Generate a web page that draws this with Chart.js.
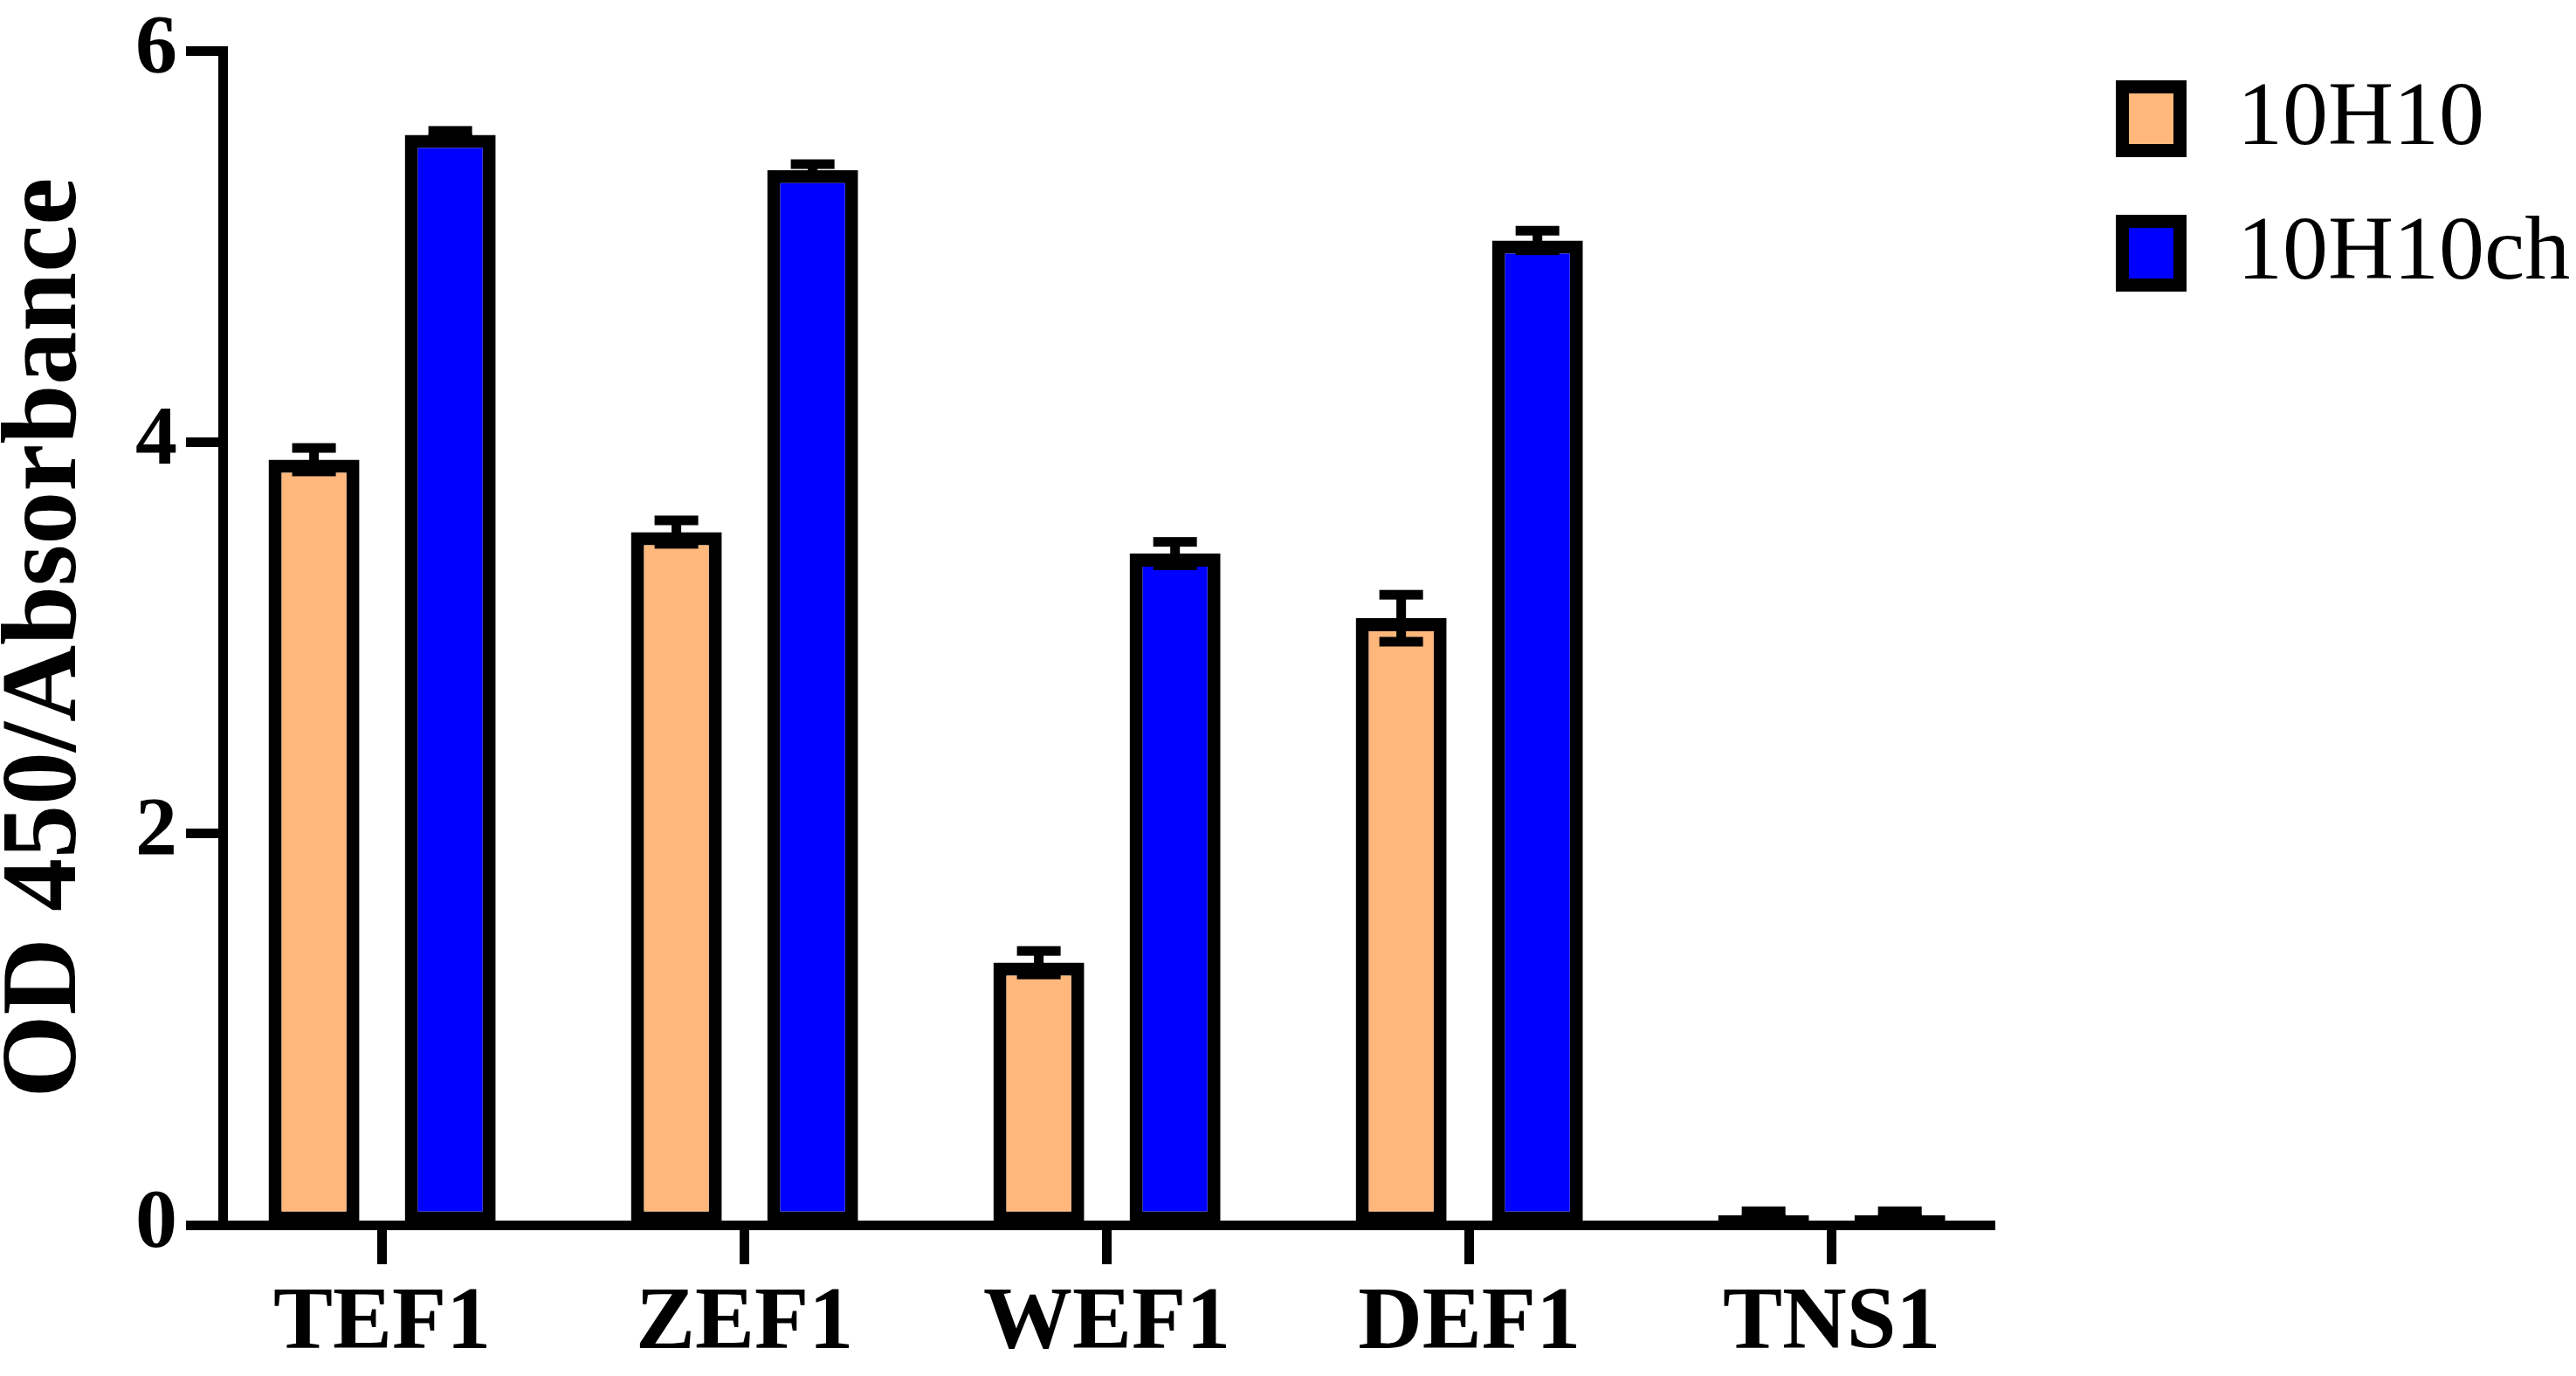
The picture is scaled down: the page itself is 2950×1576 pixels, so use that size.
<!DOCTYPE html>
<html>
<head>
<meta charset="utf-8">
<script src="https://cdn.jsdelivr.net/npm/chart.js@4.4.0/dist/chart.umd.min.js"></script>
<style>
  html, body { margin: 0; padding: 0; background: #fff; }
  canvas { display: block; }
</style>
</head>
<body>
<canvas id="myChart" width="2950" height="1576"></canvas>
<script>
const categories = ['TEF1', 'ZEF1', 'WEF1', 'DEF1', 'TNS1'];
const seriesNames = ['10H10', '10H10ch'];
const values10H10 = [3.91, 3.54, 1.34, 3.10, 0.05];
const values10H10ch = [5.57, 5.39, 3.43, 5.03, 0.05];
const sd10H10 = [0.06, 0.06, 0.06, 0.12, 0.02];
const sd10H10ch = [0.02, 0.03, 0.06, 0.05, 0.02];
const yTicks = [0, 2, 4, 6];

const serif = '"Liberation Serif", "Times New Roman", serif';

// mean +/- SD whiskers drawn on top of the bars
const errorBars = {
    id: 'errorBars',
    afterDatasetsDraw(chart) {
        const ctx = chart.ctx;
        const yScale = chart.scales.y;
        ctx.save();
        ctx.fillStyle = '#000';
        chart.data.datasets.forEach((ds, i) => {
            chart.getDatasetMeta(i).data.forEach((bar, j) => {
                const v = ds.data[j].y, e = ds.errors[j];
                const top = yScale.getPixelForValue(v + e);
                const bottom = yScale.getPixelForValue(v - e);
                ctx.fillRect(bar.x - 5.5, top, 11, bottom - top);
                ctx.fillRect(bar.x - 25, top - 5.5, 50, 11);
                ctx.fillRect(bar.x - 25, bottom - 5.5, 50, 11);
            });
        });
        ctx.restore();
    }
};

// legend on the right, square swatch with thick black frame
const sideLegend = {
    id: 'sideLegend',
    afterDraw(chart) {
        const ctx = chart.ctx;
        ctx.save();
        chart.data.datasets.forEach((ds, i) => {
            const bx = 2423, by = 92 + i * 154, bw = 81, bh = 88;
            ctx.fillStyle = '#000';
            ctx.fillRect(bx, by, bw, bh);
            ctx.fillStyle = ds.backgroundColor;
            ctx.fillRect(bx + 15, by + 15, bw - 30, bh - 30);
            ctx.fillStyle = '#000';
            ctx.font = '104px ' + serif;
            ctx.textBaseline = 'middle';
            ctx.fillText(ds.label, 2562, by + bh / 2 + 2);
        });
        ctx.restore();
    }
};

const ctx = document.getElementById('myChart').getContext('2d');
const myChart = new Chart(ctx, {
    type: 'bar',
    data: {
        datasets: [{
            label: seriesNames[0],
            data: values10H10.map((v, i) => ({ x: i, y: v })),
            errors: sd10H10,
            backgroundColor: '#FFB77B',
        }, {
            label: seriesNames[1],
            data: values10H10ch.map((v, i) => ({ x: i, y: v })),
            errors: sd10H10ch,
            backgroundColor: '#0000FF',
        }]
    },
    options: {
        responsive: false,
        animation: false,
        layout: { padding: { top: 57, right: 666, bottom: 0, left: 0 } },
        datasets: {
            bar: {
                borderColor: '#000',
                borderWidth: 15,
                borderSkipped: false,
                categoryPercentage: 0.752,
                barPercentage: 0.667
            }
        },
        plugins: {
            legend: { display: false },
            tooltip: { enabled: false }
        },
        scales: {
            x: {
                type: 'linear',
                bounds: 'data',
                offset: false,
                min: -0.44,
                max: 4.449,
                afterFit(scale) { scale.height = 173; },
                afterBuildTicks(scale) { scale.ticks = categories.map((c, i) => ({ value: i })); },
                border: { display: true, color: '#000', width: 11 },
                grid: {
                    offset: false,
                    drawOnChartArea: false,
                    drawTicks: true,
                    tickLength: 45,
                    tickWidth: 11,
                    tickColor: '#000'
                },
                ticks: {
                    autoSkip: false,
                    maxRotation: 0,
                    padding: 8,
                    color: '#000',
                    font: { family: serif, size: 102, weight: 'bold' },
                    callback: (v) => categories[v]
                }
            },
            y: {
                min: 0,
                max: 6,
                afterFit(scale) { scale.width = 255; },
                afterBuildTicks(scale) { scale.ticks = yTicks.map(v => ({ value: v })); },
                border: { display: true, color: '#000', width: 11 },
                grid: {
                    drawOnChartArea: false,
                    drawTicks: true,
                    tickLength: 42,
                    tickWidth: 11,
                    tickColor: '#000'
                },
                ticks: {
                    padding: 10,
                    color: '#000',
                    font: { family: serif, size: 96, weight: 'bold', lineHeight: 1 }
                },
                title: {
                    display: true,
                    text: 'OD 450/Absorbance',
                    color: '#000',
                    padding: 0,
                    font: { family: serif, size: 122, weight: 'bold', lineHeight: 0.9 }
                }
            }
        }
    },
    plugins: [errorBars, sideLegend]
});
</script>
</body>
</html>
